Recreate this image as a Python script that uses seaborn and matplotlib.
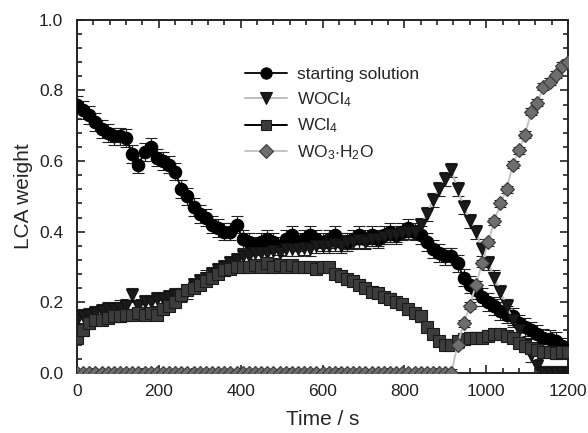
import numpy as np
import pandas as pd
import matplotlib
matplotlib.use('Agg')
import matplotlib.pyplot as plt
from matplotlib.ticker import MultipleLocator
import seaborn as sns

# time axis, one reading every 15 s
time_s = list(range(0, 1201, 15))

start_sol = [
    0.76, 0.745, 0.73, 0.71, 0.69, 0.68, 0.67, 0.67, 0.665, 0.62,
    0.59, 0.625, 0.64, 0.61, 0.60, 0.59, 0.57, 0.52, 0.50, 0.47,
    0.45, 0.44, 0.42, 0.41, 0.40, 0.40, 0.42, 0.38, 0.37, 0.36,
    0.37, 0.38, 0.37, 0.36, 0.38, 0.39, 0.37, 0.38, 0.39, 0.38,
    0.37, 0.38, 0.39, 0.37, 0.37, 0.38, 0.39, 0.38, 0.39, 0.38,
    0.39, 0.40, 0.39, 0.40, 0.41, 0.40, 0.39, 0.37, 0.35, 0.34,
    0.33, 0.33, 0.31, 0.27, 0.25, 0.235, 0.215, 0.20, 0.19, 0.175,
    0.165, 0.16, 0.14, 0.13, 0.12, 0.11, 0.10, 0.095, 0.09, 0.075,
    0.065,
]
wocl4 = [
    0.15, 0.16, 0.165, 0.17, 0.175, 0.18, 0.18, 0.185, 0.19, 0.22,
    0.19, 0.20, 0.20, 0.21, 0.21, 0.215, 0.22, 0.22, 0.23, 0.25,
    0.26, 0.27, 0.28, 0.29, 0.30, 0.31, 0.32, 0.33, 0.33, 0.34,
    0.34, 0.34, 0.345, 0.34, 0.35, 0.35, 0.35, 0.355, 0.35, 0.36,
    0.36, 0.36, 0.365, 0.36, 0.37, 0.37, 0.375, 0.37, 0.38, 0.38,
    0.385, 0.39, 0.39, 0.395, 0.40, 0.40, 0.42, 0.45, 0.49, 0.52,
    0.55, 0.575, 0.52, 0.47, 0.43, 0.40, 0.35, 0.31, 0.27, 0.23,
    0.19, 0.15, 0.12, 0.08, 0.05, 0.02, 0.0, 0.0, 0.0, 0.0,
    0.0,
]
wcl4 = [
    0.10, 0.12, 0.14, 0.15, 0.15, 0.155, 0.16, 0.16, 0.165, 0.165,
    0.17, 0.165, 0.17, 0.165, 0.18, 0.19, 0.20, 0.22, 0.235, 0.24,
    0.25, 0.26, 0.27, 0.28, 0.29, 0.295, 0.30, 0.30, 0.30, 0.305,
    0.30, 0.31, 0.30, 0.305, 0.30, 0.305, 0.30, 0.30, 0.30, 0.295,
    0.30, 0.30, 0.28, 0.275, 0.265, 0.26, 0.25, 0.24, 0.23, 0.225,
    0.215, 0.21, 0.20, 0.195, 0.18, 0.17, 0.16, 0.13, 0.11, 0.09,
    0.08, 0.08, 0.09, 0.095, 0.10, 0.10, 0.10, 0.105, 0.11, 0.11,
    0.105, 0.10, 0.085, 0.075, 0.07, 0.065, 0.06, 0.06, 0.055, 0.06,
    0.06,
]
wo3_h2o = [
    0.0, 0.0, 0.0, 0.0, 0.0, 0.0, 0.0, 0.0, 0.0, 0.0,
    0.0, 0.0, 0.0, 0.0, 0.0, 0.0, 0.0, 0.0, 0.0, 0.0,
    0.0, 0.0, 0.0, 0.0, 0.0, 0.0, 0.0, 0.0, 0.0, 0.0,
    0.0, 0.0, 0.0, 0.0, 0.0, 0.0, 0.0, 0.0, 0.0, 0.0,
    0.0, 0.0, 0.0, 0.0, 0.0, 0.0, 0.0, 0.0, 0.0, 0.0,
    0.0, 0.0, 0.0, 0.0, 0.0, 0.0, 0.0, 0.0, 0.0, 0.0,
    0.0, 0.0, 0.08, 0.14, 0.19, 0.25, 0.31, 0.37, 0.43, 0.48,
    0.52, 0.59, 0.63, 0.675, 0.74, 0.765, 0.81, 0.825, 0.845, 0.87,
    0.88,
]

# error bar half-widths per series
err_start = 0.025
err_wocl4 = 0.02
err_wcl4 = 0.015
err_wo3 = 0.01

labels = ['starting solution', r'WOCl$_4$', r'WCl$_4$', r'WO$_3$$\cdot$H$_2$O']

sns.set_theme(style="ticks")
plt.rcParams['font.family'] = ['Liberation Sans', 'DejaVu Sans']
plt.rcParams['mathtext.fontset'] = 'custom'
plt.rcParams['mathtext.rm'] = 'Liberation Sans'
plt.rcParams['mathtext.it'] = 'Liberation Sans'

fig = plt.figure(figsize=(5.88, 4.33), dpi=100)
ax = fig.add_axes([0.131, 0.139, 0.835, 0.815])

series = [
    (start_sol, err_start, 'o', '#111111', '#000000', '#000000', 9),
    (wocl4, err_wocl4, 'v', '#bdbdbd', '#1a1a1a', '#111111', 9),
    (wcl4, err_wcl4, 's', '#000000', '#3c3c3c', '#1a1a1a', 8.5),
    (wo3_h2o, err_wo3, 'D', '#c4c4c4', '#6e6e6e', '#3a3a3a', 7.5),
]

for (vals, err, mk, lc, fc, ec, ms), lab in zip(series, labels):
    df = pd.DataFrame({'t': time_s, 'v': vals})
    ax.errorbar(df['t'], df['v'], yerr=err, fmt='none', ecolor='#222222',
                elinewidth=0.8, capsize=4, capthick=0.8, zorder=2)
    sns.lineplot(data=df, x='t', y='v', ax=ax, color=lc, lw=1.4,
                 marker=mk, markersize=ms, markerfacecolor=fc,
                 markeredgecolor=ec, markeredgewidth=0.8, label=lab, zorder=3)

ax.set_xlim(0, 1200)
ax.set_ylim(0, 1.0)
ax.xaxis.set_major_locator(MultipleLocator(200))
ax.xaxis.set_minor_locator(MultipleLocator(40))
ax.yaxis.set_major_locator(MultipleLocator(0.2))
ax.yaxis.set_minor_locator(MultipleLocator(0.04))
ax.tick_params(which='both', direction='in', top=True, right=True, width=1.2, colors='#222222')
ax.tick_params(which='major', length=6, labelsize=12.5)
ax.tick_params(axis='y', which='major', pad=10)
ax.tick_params(axis='x', which='major', pad=8)
ax.tick_params(which='minor', length=3.5)
ax.yaxis.set_major_formatter(matplotlib.ticker.FormatStrFormatter('%.1f'))
for sp in ax.spines.values():
    sp.set_visible(True)
    sp.set_linewidth(1.4)
    sp.set_color('#222222')

ax.set_xlabel('Time / s', fontsize=15, labelpad=8)
ax.set_ylabel('LCA weight', fontsize=15, labelpad=4)

ax.legend(loc='upper left', bbox_to_anchor=(0.31, 0.91), frameon=False,
          fontsize=12.5, handlelength=2.4, labelspacing=0.45, handletextpad=0.6,
          markerscale=0.9)

plt.savefig('out.png', dpi=100)
